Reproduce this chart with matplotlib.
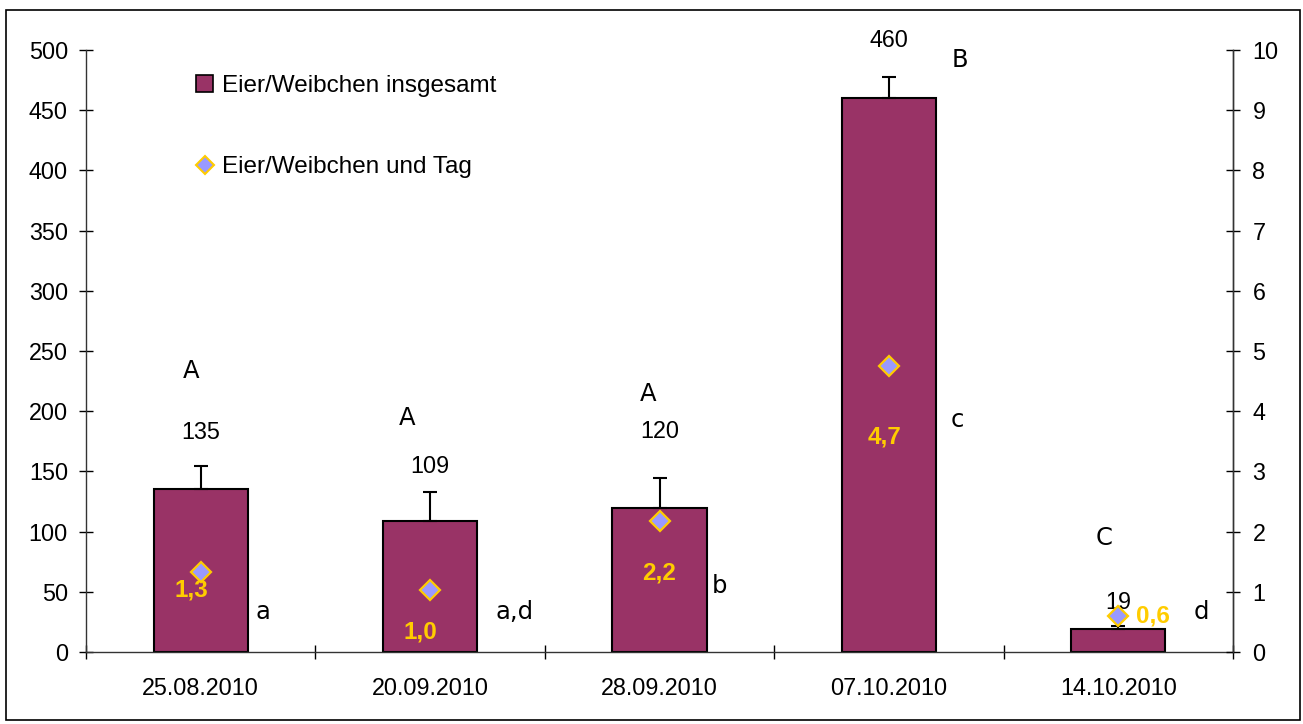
import numpy as np
import matplotlib
matplotlib.use("Agg")
import matplotlib.pyplot as plt
import matplotlib.patches as mpatches
from matplotlib.lines import Line2D

# ---------------- data ----------------
dates = ["25.08.2010", "20.09.2010", "28.09.2010", "07.10.2010", "14.10.2010"]
eggs_total = [135, 109, 120, 460, 19]
eggs_err = [19.5, 24, 24.5, 18, 3]
eggs_per_day = [1.33, 1.03, 2.18, 4.75, 0.6]
eggs_per_day_labels = ["1,3", "1,0", "2,2", "4,7", "0,6"]
upper_letters = ["A", "A", "A", "B", "C"]
lower_letters = ["a", "a,d", "b", "c", "d"]

# label placement (x offset from bar centre, y in left-axis units)
upper_pos = [(-0.04, 233), (-0.10, 194), (-0.05, 214), (0.31, 492), (-0.06, 95)]
total_lbl_y = [182, 154.5, 183.5, 508, 41.5]
lower_pos = [(0.27, 33), (0.37, 33), (0.26, 55), (0.30, 193), (0.36, 33)]
yellow_pos = [(-0.04, 51.5), (-0.044, 16.6), (0.0, 65.6), (-0.02, 179), (0.15, 30)]

bar_color = "#993366"
diam_face = "#9999FF"
diam_edge = "#FFCC00"

plt.rcParams["font.family"] = ["Liberation Sans", "DejaVu Sans"]

fig = plt.figure(figsize=(13.03, 7.24), dpi=100)
ax = fig.add_axes([0.066, 0.0994, 0.8803, 0.8315])
ax2 = ax.twinx()

x = np.arange(len(dates))
ax.bar(x, eggs_total, width=0.41, color=bar_color, edgecolor="black", linewidth=1.5, zorder=2)
ax.errorbar(x, eggs_total, yerr=[np.zeros(len(x)), eggs_err], fmt="none",
            ecolor="black", elinewidth=1.5, capsize=5, capthick=1.5, zorder=3)

ax2.plot(x, eggs_per_day, linestyle="none", marker="D", markersize=10.5,
         markerfacecolor=diam_face, markeredgecolor=diam_edge, markeredgewidth=1.6, zorder=4)

ax.set_xlim(-0.5, len(dates) - 0.5)
ax.set_ylim(0, 500)
ax2.set_ylim(0, 10)
ax.set_yticks(np.arange(0, 501, 50))
ax2.set_yticks(np.arange(0, 11, 1))

ax.set_xticks(x)
ax.set_xticklabels(dates)
ax.set_xticks(np.arange(-0.5, len(dates)), minor=True)
ax.tick_params(axis="x", which="major", length=0, pad=18, labelsize=16.8)
ax.tick_params(axis="x", which="minor", length=10, direction="inout", width=1)
ax.tick_params(axis="y", length=10, direction="inout", width=1, pad=8, labelsize=16.8)
ax2.tick_params(axis="y", length=10, direction="inout", width=1, pad=9, labelsize=16.8)

for a in (ax, ax2):
    a.spines["top"].set_visible(False)
    for s in a.spines.values():
        s.set_linewidth(1)
        s.set_color("#333333")
ax2.spines["left"].set_visible(False)
ax2.spines["bottom"].set_visible(False)

# annotations
for i in range(len(x)):
    ax.text(x[i], total_lbl_y[i], str(eggs_total[i]), ha="center", va="center", fontsize=16.8, zorder=5)
    ax.text(x[i] + upper_pos[i][0], upper_pos[i][1], upper_letters[i], ha="center", va="center",
            fontsize=17.5, family="DejaVu Sans", zorder=5)
    ax.text(x[i] + lower_pos[i][0], lower_pos[i][1], lower_letters[i], ha="center", va="center",
            fontsize=17.5, family="DejaVu Sans", zorder=5)
    ax.text(x[i] + yellow_pos[i][0], yellow_pos[i][1], eggs_per_day_labels[i], ha="center", va="center",
            fontsize=17.5, fontweight="bold", color=diam_edge, zorder=5)

handles = [
    mpatches.Patch(facecolor=bar_color, edgecolor="black", linewidth=1.2, label="Eier/Weibchen insgesamt"),
    Line2D([], [], linestyle="none", marker="D", markersize=9, markerfacecolor=diam_face,
           markeredgecolor=diam_edge, markeredgewidth=1.5, label="Eier/Weibchen und Tag"),
]
leg = ax2.legend(handles=handles, loc="upper left", bbox_to_anchor=(0.077, 0.995), frameon=False,
                 fontsize=17.5, labelspacing=2.45, handlelength=0.7, handleheight=0.7,
                 handletextpad=0.35)

# outer frame
fig.patches.append(mpatches.Rectangle((6 / 1303, 4 / 724), 1294 / 1303, 710 / 724,
                                      transform=fig.transFigure, fill=False,
                                      edgecolor="black", linewidth=1.2))

fig.savefig("out.png", dpi=100)
